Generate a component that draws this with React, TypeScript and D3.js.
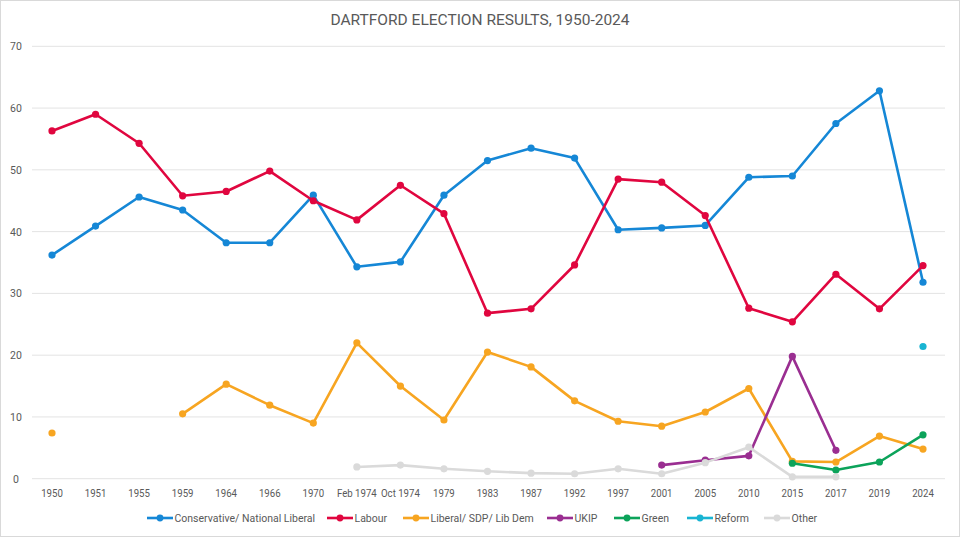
import * as d3 from 'd3';
import React, { useEffect, useRef } from 'react';

const years = ['1950', '1951', '1955', '1959', '1964', '1966', '1970', 'Feb 1974', 'Oct 1974', '1979',
  '1983', '1987', '1992', '1997', '2001', '2005', '2010', '2015', '2017', '2019', '2024'];

const conservative = [36.2, 40.9, 45.6, 43.5, 38.2, 38.2, 45.9, 34.3, 35.1, 45.9,
  51.5, 53.5, 51.9, 40.3, 40.6, 41.0, 48.8, 49.0, 57.5, 62.8, 31.8];
const labour = [56.3, 59.0, 54.3, 45.8, 46.5, 49.8, 45.0, 41.9, 47.5, 42.9,
  26.8, 27.5, 34.6, 48.5, 48.0, 42.6, 27.6, 25.4, 33.1, 27.5, 34.5];
const libDem = [7.4, null, null, 10.5, 15.3, 11.9, 9.0, 22.0, 15.0, 9.5,
  20.5, 18.1, 12.6, 9.3, 8.5, 10.8, 14.6, 2.8, 2.7, 6.9, 4.8];
const ukip = [null, null, null, null, null, null, null, null, null, null,
  null, null, null, null, 2.2, 3.0, 3.7, 19.8, 4.6, null, null];
const green = [null, null, null, null, null, null, null, null, null, null,
  null, null, null, null, null, null, null, 2.5, 1.4, 2.7, 7.1];
const reform = [null, null, null, null, null, null, null, null, null, null,
  null, null, null, null, null, null, null, null, null, null, 21.4];
const other = [null, null, null, null, null, null, null, 1.9, 2.2, 1.6,
  1.2, 0.9, 0.8, 1.6, 0.8, 2.6, 5.1, 0.3, 0.3, null, null];

const seriesNames = ['Conservative/ National Liberal', 'Labour', 'Liberal/ SDP/ Lib  Dem', 'UKIP', 'Green', 'Reform', 'Other'];
const seriesColors = ['#1587d6', '#e0063f', '#f7a521', '#9a2e91', '#0ca35a', '#19b4d2', '#dadada'];
const yTicks = [0, 10, 20, 30, 40, 50, 60, 70];

export default function App() {
  const ref = useRef<any>();

  useEffect(() => {
    document.body.style.margin = '0';
    const svg = d3.select(ref.current);
    svg.selectAll('*').remove();

    const width = 960;
    const height = 537;
    const font = 'Roboto, sans-serif';
    const textColor = '#595959';

    // frame
    svg.append('rect')
      .attr('x', 0.5).attr('y', 0.5)
      .attr('width', width - 1).attr('height', height - 1)
      .attr('fill', '#fff').attr('stroke', '#d9d9d9');

    svg.append('text')
      .attr('x', 480).attr('y', 25)
      .attr('text-anchor', 'middle')
      .attr('font-family', font).attr('font-size', 15.5)
      .attr('fill', textColor)
      .text('DARTFORD ELECTION RESULTS, 1950-2024');

    const xScale = d3.scalePoint<string>().domain(years).range([52, 923]);
    const yScale = d3.scaleLinear().domain([0, 70]).range([478.7, 46.3]);

    // grid
    svg.append('g').selectAll('line').data(yTicks).join('line')
      .attr('x1', 32).attr('x2', 945)
      .attr('y1', (d) => yScale(d)).attr('y2', (d) => yScale(d))
      .attr('stroke', '#e3e3e3').attr('stroke-width', 1);

    svg.append('g').selectAll('text').data(yTicks).join('text')
      .attr('x', 16).attr('y', (d) => yScale(d) + 4)
      .attr('text-anchor', 'middle')
      .attr('font-family', font).attr('font-size', 10.5)
      .attr('fill', textColor)
      .text((d) => d);

    // x labels, squeezed a little like the narrow original font
    svg.append('g').selectAll('text').data(years).join('text')
      .attr('transform', (d) => `translate(${xScale(d)}, 497) scale(0.92, 1)`)
      .attr('text-anchor', 'middle')
      .attr('font-family', font).attr('font-size', 10.5)
      .attr('fill', textColor)
      .text((d) => d);

    const allSeries = [conservative, labour, libDem, ukip, green, reform, other];

    const line = d3.line<any>()
      .defined((d) => d != null)
      .x((d, i) => xScale(years[i]) as number)
      .y((d) => yScale(d));

    allSeries.forEach((values, s) => {
      const g = svg.append('g');
      g.append('path')
        .attr('d', line(values as any))
        .attr('fill', 'none')
        .attr('stroke', seriesColors[s])
        .attr('stroke-width', 2.6)
        .attr('stroke-linejoin', 'round');
      const pts = values.map((v, i) => ({ v, i })).filter((p) => p.v != null);
      g.selectAll('circle').data(pts).join('circle')
        .attr('cx', (p) => xScale(years[p.i]) as number)
        .attr('cy', (p) => yScale(p.v as number))
        .attr('r', 3.6)
        .attr('fill', seriesColors[s]);
    });

    // legend
    const legendX = [147, 327, 403, 547, 614, 687, 764];
    const legendY = 518;
    seriesNames.forEach((name, s) => {
      const g = svg.append('g').attr('transform', `translate(${legendX[s]}, ${legendY})`);
      g.append('line')
        .attr('x1', 0).attr('x2', 26)
        .attr('stroke', seriesColors[s]).attr('stroke-width', 2.6);
      g.append('circle').attr('cx', 13).attr('r', 3.4).attr('fill', seriesColors[s]);
      g.append('text')
        .attr('x', 27.5).attr('y', 4)
        .attr('font-family', font).attr('font-size', 10.5)
        .attr('fill', textColor)
        .text(name);
    });
  });

  return (
    <svg ref={ref} width={960} height={537} style={{ display: 'block' }}></svg>
  );
}
